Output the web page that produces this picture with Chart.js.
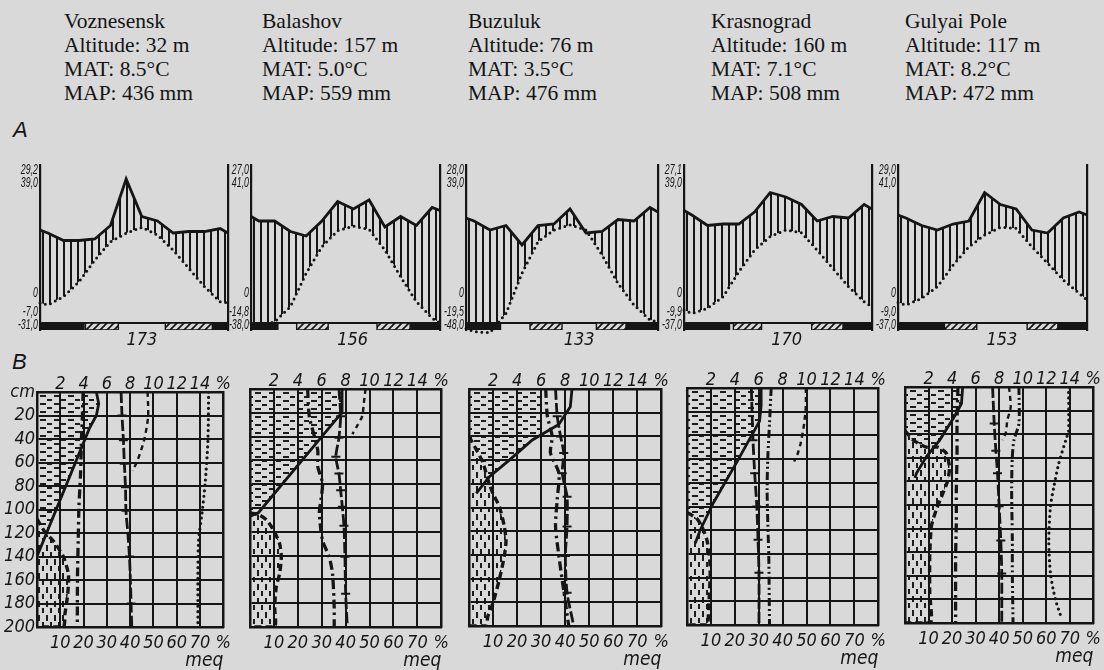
<!DOCTYPE html>
<html>
<head>
<meta charset="utf-8">
<title>Climate diagrams and soil profiles</title>
<script src="https://cdn.jsdelivr.net/npm/chart.js@4.4.1/dist/chart.umd.min.js"></script>
<style>
  html, body { margin:0; padding:0; }
  body { width:1104px; height:670px; position:relative; overflow:hidden; background:#d9d9d9; color:#141414;
         font-family:'Liberation Serif','Times New Roman',serif; }
  .hdr { position:absolute; top:9px; font-size:21.5px; line-height:24px; white-space:nowrap; }
  .letter { position:absolute; font-family:'Liberation Sans',Arial,sans-serif; font-style:italic; font-size:22px; line-height:22px; }
  canvas { position:absolute; }
</style>
</head>
<body>
<script>
// ===================== DATA =====================
const stations = ['Voznesensk', 'Balashov', 'Buzuluk', 'Krasnograd', 'Gulyai Pole'];
const altitudes = [32, 157, 76, 160, 117];
const meanAnnualTemp = ['8.5', '5.0', '3.5', '7.1', '8.2'];
const meanAnnualPrecip = [436, 559, 476, 508, 472];

// x positions of climate points: left edge, Jan..Dec (mid-month), right edge
const monthPos = [0, 0.5, 1.5, 2.5, 3.5, 4.5, 5.5, 6.5, 7.5, 8.5, 9.5, 10.5, 11.5, 12];

// mean monthly temperature, °C (edge, Jan..Dec, edge)
const tempVoznesensk = [-3.3, -4.0, -1.2, 3.8, 11.0, 17.1, 19.9, 21.9, 19.3, 14.3, 8.2, 2.1, -2.9, -3.3];
const tempBalashov   = [-10.0, -11.0, -9.6, -4.6, 6.6, 15.4, 20.8, 22.3, 21.2, 14.3, 5.4, -2.9, -8.4, -10.0];
const tempBuzuluk    = [-11.8, -12.9, -13.2, -6.8, 6.6, 17.1, 21.0, 22.7, 21.0, 12.7, 3.2, -4.0, -9.0, -9.6];
const tempKrasnograd = [-5.7, -6.8, -5.1, -1.2, 7.1, 14.3, 18.8, 21.0, 20.1, 14.3, 8.2, 2.1, -2.9, -4.6];
const tempGulyaiPole = [-3.2, -4.0, -1.8, 2.1, 9.3, 15.4, 19.3, 21.9, 21.6, 15.4, 9.9, 4.3, -0.1, -2.3];

// mean monthly precipitation, mm (edge, Jan..Dec, edge)
const precVoznesensk = [42, 40, 35, 35, 36, 45, 76, 51, 48, 40, 41, 41, 43, 40];
const precBalashov   = [51, 48, 48, 41, 38, 48, 61, 56, 62, 44, 51, 45, 57, 55];
const precBuzuluk    = [50, 48, 42, 45, 32, 45, 46, 56, 40, 41, 49, 48, 57, 54];
const precKrasnograd = [55, 52, 45, 46, 46, 54, 67, 64, 59, 48, 51, 50, 59, 56];
const precGulyaiPole = [52, 50, 45, 42, 46, 48, 67, 59, 56, 42, 40, 50, 54, 52];

// frost bars below the diagrams, [from, to] in months
const frostBlackVoz = [[0, 2.85], [11.0, 12]];   const frostHatchVoz = [[2.9, 5.0], [8.0, 11.0]];
const frostBlackBal = [[0, 1.75], [10.1, 12]];   const frostHatchBal = [[2.9, 4.9], [8.0, 10.1]];
const frostBlackBuz = [[0, 2.2], [10.0, 12]];    const frostHatchBuz = [[4.0, 6.0], [8.15, 10.0]];
const frostBlackKra = [[0, 2.95], [10.15, 12]];  const frostHatchKra = [[3.15, 4.95], [8.15, 10.15]];
const frostBlackGul = [[0, 2.95], [10.15, 12]];  const frostHatchGul = [[2.95, 5.0], [8.2, 10.15]];
const frostFreeDays = [173, 156, 133, 170, 153];

// climate diagram tick labels (two upper values, 0, two lower values)
const climLabelsVoz = ['29,2', '39,0', '0', '-7,0', '-31,0'];
const climLabelsBal = ['27,0', '41,0', '0', '-14,8', '-38,0'];
const climLabelsBuz = ['28,0', '39,0', '0', '-19,5', '-48,0'];
const climLabelsKra = ['27,1', '39,0', '0', '-9,9', '-37,0'];
const climLabelsGul = ['29,0', '41,0', '0', '-9,0', '-37,0'];

// soil profile axes
const depthTicks = [0, 20, 40, 60, 80, 100, 120, 140, 160, 180, 200];
const depthTickLabels = ['cm', '20', '40', '60', '80', '100', '120', '140', '160', '180', '200'];
const pctTicks = [0, 2, 4, 6, 8, 10, 12, 14, 16];
const pctTickLabels = ['', '2', '4', '6', '8', '10', '12', '14', '%'];
const meqTicks = [0, 10, 20, 30, 40, 50, 60, 70, 80];
const meqTickLabels = ['', '10', '20', '30', '40', '50', '60', '70', '%'];

// soil profiles: [depth cm, value]; humus in %, other curves in meq / %
const vozHumus    = [[0, 5.1], [10, 5.3], [20, 5.1], [31, 4.5], [140, 0]];
const vozCarb     = [[108, 0], [118, 3], [128, 7.5], [140, 11.3], [155, 13.5], [172, 13.2], [189, 12], [200, 11.3]];
const vozDashDot  = [[0, 19.8], [20, 19.5], [40, 19.1], [70, 18.7], [98, 18.0], [126, 17.7], [155, 17.4], [200, 17.3]];
const vozCross    = [[0, 36.1], [20, 36.5], [41, 37.1], [61, 37.5], [81, 38], [101, 38.2], [120, 39], [140, 39.7], [160, 40.1], [180, 40.4], [200, 40.7]];
const vozDashed   = [[0, 47.5], [21, 47.7], [41, 46], [58, 43.2], [67, 41.1]];
const vozDotted   = [[0, 73.7], [41, 73.4], [78, 72.2], [104, 70.8], [126, 69.4], [155, 69.1], [200, 69.1]];

const balHumus    = [[0, 7.7], [20, 7.7], [22, 7.5], [104, 0.7], [107, 0]];
const balCarb     = [[104, 0], [106, 4.1], [110, 6.9], [118, 9.7], [130, 12.4], [141, 13.1], [155, 12.4], [166, 11], [183, 10.3], [200, 10.3]];
const balDashDot  = [[0, 24.1], [23, 24.8], [51, 28.3], [65, 28.3], [79, 30.3], [93, 29.7], [104, 29], [127, 30.3], [141, 33.1], [155, 34.5], [183, 35.2], [200, 35.2]];
const balCross    = [[0, 37.2], [23, 37.9], [41, 37.2], [57, 35.9], [71, 37.2], [85, 37.9], [99, 38.6], [115, 39.3], [141, 39.7], [172, 40], [200, 40.7]];
const balDashed   = [[0, 48.3], [12, 47.6], [23, 46.9], [31, 44.8], [38, 42.8]];

const buzHatch    = [[0, 6.1], [38, 6.1], [43, 5.27], [60, 3.35], [74, 1.7], [88, 0.6], [90, 0]];
const buzHumus    = [[0, 8.57], [15, 8.43], [30, 7.47], [43, 5.27], [60, 3.35], [74, 1.7], [88, 0.6]];
const buzCarb     = [[40, 0], [51, 3.0], [62, 5.8], [76, 7.8], [88, 9.9], [99, 12.6], [116, 14.7], [128, 15.4], [141, 14.7], [161, 12.6], [181, 9.9], [192, 7.8], [200, 7.1]];
const buzDashDot  = [[0, 31.9], [23, 32.6], [40, 34.6], [54, 33.9], [71, 37.4], [93, 36.7], [116, 36.0], [141, 37.4], [170, 39.4], [200, 41.5]];
const buzCross    = [[0, 36.0], [23, 36.7], [40, 38.1], [54, 39.4], [71, 38.8], [91, 40.8], [116, 40.8], [141, 40.1], [172, 40.8], [200, 43.6]];

const kraHumus    = [[0, 6.2], [15, 6.2], [28, 6.07], [63, 4.14], [97, 2.2], [120, 1.1], [131, 0.69]];
const kraCarb     = [[105, 0], [110, 4], [117, 6.2], [128, 8.3], [142, 9.4], [156, 9.7], [173, 9.4], [187, 9.0], [200, 8.3]];
const kraCross    = [[0, 26.9], [44, 27.6], [72, 28.3], [100, 29.2], [128, 29.7], [156, 30.1], [200, 30.1]];
const kraDashDot2 = [[0, 35.2], [30, 34.5], [58, 33.8], [86, 33.5], [114, 33.8], [142, 34.2], [200, 34.5]];
const kraDashed   = [[0, 49.7], [15, 49.7], [30, 49], [46, 47.6], [56, 46.2], [62, 44.8]];

const gulHumus    = [[0, 4.9], [14, 4.8], [25, 4.2], [45, 2.95], [59, 1.83], [73, 0.98], [77, 0.84]];
const gulCarb     = [[37, 0], [45, 3.5], [51, 9.1], [51, 14.0], [56, 17.5], [68, 18.9], [79, 18.2], [90, 16.1], [104, 13.3], [118, 11.2], [144, 10.5], [175, 10.5], [200, 10.8]];
const gulDashDot  = [[0, 22.5], [31, 22.1], [59, 22.1], [87, 21.8], [115, 21.8], [144, 21.5], [200, 21.5]];
const gulCross    = [[0, 37.2], [31, 37.9], [54, 38.6], [73, 39.3], [101, 40], [130, 40.7], [158, 41.1], [200, 41.1]];
const gulDashDot2 = [[0, 48.4], [31, 48.4], [45, 46.3], [59, 45.6], [87, 45.3], [130, 45.6], [158, 45.6], [200, 45.9]];
const gulDashed   = [[0, 44.2], [17, 44.9], [28, 43.5], [39, 42.8], [45, 41.4]];
const gulDotted   = [[0, 69.5], [39, 69.5], [42, 68.8], [65, 65.3], [85, 63.2], [101, 61.8], [130, 61.1], [158, 61.8], [180, 63.9], [197, 66.7]];

// ===================== TABLES BUILT FROM DATA =====================
const temperatures = [tempVoznesensk, tempBalashov, tempBuzuluk, tempKrasnograd, tempGulyaiPole];
const precipitation = [precVoznesensk, precBalashov, precBuzuluk, precKrasnograd, precGulyaiPole];
const frostBlack = [frostBlackVoz, frostBlackBal, frostBlackBuz, frostBlackKra, frostBlackGul];
const frostHatch = [frostHatchVoz, frostHatchBal, frostHatchBuz, frostHatchKra, frostHatchGul];
const climLabels = [climLabelsVoz, climLabelsBal, climLabelsBuz, climLabelsKra, climLabelsGul];
const soilPanels = [
  { hatch: vozHumus, humus: vozHumus, carb: vozCarb, dashDot: vozDashDot, cross: vozCross, dashDot2: null, dashed: vozDashed, dotted: vozDotted },
  { hatch: balHumus, humus: balHumus, carb: balCarb, dashDot: balDashDot, cross: balCross, dashDot2: null, dashed: balDashed, dotted: null },
  { hatch: buzHatch, humus: buzHumus, carb: buzCarb, dashDot: buzDashDot, cross: buzCross, dashDot2: null, dashed: null, dotted: null },
  { hatch: kraHumus, humus: kraHumus, carb: kraCarb, dashDot: null, cross: kraCross, dashDot2: kraDashDot2, dashed: kraDashed, dotted: null },
  { hatch: gulHumus, humus: gulHumus, carb: gulCarb, dashDot: gulDashDot, cross: gulCross, dashDot2: gulDashDot2, dashed: gulDashed, dotted: gulDotted }
];

// ===================== LAYOUT & STYLE =====================
const INK = '#151515';
const PAPER = '#d9d9d9';
const NARROW = "'Liberation Sans Narrow','DejaVu Sans Condensed','Liberation Sans',Arial,sans-serif";
const hdrLeft = [64, 262, 468, 711, 905];
const climAxisLeft = [40, 251, 466, 684, 898];
const climAxisRight = [228, 440, 658, 872, 1087];
const climTickValues = [41, 36.6, 0, -6.2, -10.6];  // where the labels sit on the temperature axis
const T_MIN = -12.33, T_MAX = 42.67, STRIP_TOP = -10;
const soilLeft = [37, 250, 469, 687, 905];
const soilRight = [225, 443, 663, 880, 1095];
const soilTop = [392, 389, 389, 388, 387];
const soilBottom = [627, 627, 626, 625, 623];
const CLIM_LABEL_SIZE = 14;      // px, drawn horizontally condensed
const CLIM_LABEL_SQUEEZE = 0.63;

function addDiv(cls, left, top, html) {
  const d = document.createElement('div');
  d.className = cls; d.style.left = left + 'px';
  if (top !== null) d.style.top = top + 'px';
  d.innerHTML = html; document.body.appendChild(d);
}
stations.forEach((s, k) => addDiv('hdr', hdrLeft[k], null,
  `${s}<br>Altitude: ${altitudes[k]} m<br>MAT: ${meanAnnualTemp[k]}&deg;C<br>MAP: ${meanAnnualPrecip[k]} mm`));
addDiv('letter', 13, 119, 'A');
addDiv('letter', 12, 351, 'B');

function makeCanvas(left, top, w, h) {
  const c = document.createElement('canvas');
  c.width = w; c.height = h;
  c.style.left = left + 'px'; c.style.top = top + 'px';
  c.style.width = w + 'px'; c.style.height = h + 'px';
  document.body.appendChild(c);
  return c;
}
function pattern(w, h, draw) {
  const c = document.createElement('canvas'); c.width = w; c.height = h;
  const g = c.getContext('2d'); draw(g); return g.createPattern(c, 'repeat');
}
const vHatch = pattern(7, 4, g => { g.fillStyle = INK; g.fillRect(0, 0, 2, 4); });
const frostPat = pattern(7, 7, g => {
  g.fillStyle = PAPER; g.fillRect(0, 0, 7, 7);
  g.strokeStyle = INK; g.lineWidth = 1.7;
  g.beginPath(); g.moveTo(0, 7); g.lineTo(7, 0); g.moveTo(-1, 1); g.lineTo(1, -1); g.moveTo(6, 8); g.lineTo(8, 6); g.stroke();
});
const dashH = pattern(14, 8, g => { g.fillStyle = '#1c1c1c'; g.fillRect(1, 1, 6, 2); g.fillRect(8, 5, 5, 2); });
const dashV = pattern(8, 14, g => {
  g.fillStyle = PAPER; g.fillRect(0, 0, 8, 14);
  g.fillStyle = '#1c1c1c'; g.fillRect(1, 1, 2, 6); g.fillRect(5, 8, 2, 5);
});

// condensed lettering for the crowded climate-axis labels (horizontal squeeze of the text)
const condense = {
  id: 'condense',
  beforeInit(chart) {
    const ctx = chart.ctx;
    const orig = ctx.fillText;
    ctx.fillText = function (text, x, y, maxWidth) {
      if (this.font.indexOf(' ' + CLIM_LABEL_SIZE + 'px') < 0) return orig.call(this, text, x, y, maxWidth);
      this.save();
      this.translate(x, y);
      this.scale(CLIM_LABEL_SQUEEZE, 1);
      orig.call(this, text, 0, 0);
      this.restore();
    };
  }
};

const baseOpts = {
  responsive: false, animation: false, devicePixelRatio: 1, events: [],
  plugins: { legend: { display: false }, tooltip: { enabled: false } }
};

// ===================== CLIMATE DIAGRAMS =====================
function climateChart(k) {
  const L = climAxisLeft[k], R = climAxisRight[k];
  const cv = makeCanvas(L - 40, 150, R - L + 46, 205);
  const T = temperatures[k], P = precipitation[k], labels = climLabels[k];
  const rect = (s, e, bg, bw) => ({
    data: [{x: s, y: STRIP_TOP}, {x: e, y: STRIP_TOP}, {x: e, y: T_MIN}, {x: s, y: T_MIN}, {x: s, y: STRIP_TOP}],
    xAxisID: 'x', yAxisID: 'yT', fill: 'shape', backgroundColor: bg, borderColor: INK,
    borderWidth: bw, pointRadius: 0, order: 0
  });
  const datasets = [
    { data: monthPos.map((x, i) => ({x, y: P[i]})), xAxisID: 'x', yAxisID: 'yP',
      borderColor: INK, borderWidth: 2.8, pointRadius: 0, tension: 0,
      fill: { target: 1, above: vHatch, below: 'rgba(0,0,0,0)' }, order: 2 },
    { data: monthPos.map((x, i) => ({x, y: T[i]})), xAxisID: 'x', yAxisID: 'yT',
      borderColor: INK, borderWidth: 3, borderDash: [0, 5.5], borderCapStyle: 'round',
      pointRadius: 0, fill: false, clip: false, order: 1 }
  ];
  frostBlack[k].forEach(([s, e]) => datasets.push(rect(s, e, INK, 0)));
  frostHatch[k].forEach(([s, e]) => datasets.push(rect(s, e, frostPat, 1.4)));
  const labelPos = (frostHatch[k][0][1] + frostHatch[k][1][0]) / 2;
  const isBase = c => c.tick && c.tick.value === STRIP_TOP;
  new Chart(cv, {
    type: 'line',
    data: { datasets },
    plugins: [condense],
    options: Object.assign({}, baseOpts, {
      layout: { padding: { top: 15, left: 0, right: 0, bottom: 0 } },
      scales: {
        x: { type: 'linear', position: 'bottom', min: 0, max: 12,
             afterBuildTicks: s => { s.ticks = [{ value: labelPos }]; },
             ticks: { autoSkip: false, maxRotation: 0, padding: 0, color: INK,
                      font: { family: NARROW, size: 18, style: 'italic' },
                      callback: () => String(frostFreeDays[k]) },
             grid: { display: false, drawTicks: false }, border: { display: false },
             afterFit: s => { s.height = 25; } },
        yT: { type: 'linear', position: 'left', min: T_MIN, max: T_MAX,
              afterBuildTicks: s => { s.ticks = climTickValues.concat([STRIP_TOP]).map(v => ({ value: v })); },
              ticks: { autoSkip: false, padding: 1, color: INK,
                       font: { family: "'Liberation Sans',Arial,sans-serif", size: CLIM_LABEL_SIZE, style: 'italic' },
                       callback: (v, i) => (i < labels.length ? labels[i] : '') },
              grid: { drawOnChartArea: true, drawTicks: true, lineWidth: 2, tickLength: 1, tickWidth: 1.5,
                      color: c => (isBase(c) ? INK : 'rgba(0,0,0,0)'),
                      tickColor: 'rgba(0,0,0,0)' },
              border: { color: INK, width: 2.2 },
              afterFit: s => { s.width = 40; } },
        yP: { type: 'linear', position: 'right', min: 2 * T_MIN, max: 2 * T_MAX,
              ticks: { display: false }, grid: { display: false },
              border: { color: INK, width: 2.2 },
              afterFit: s => { s.width = 6; } }
      }
    })
  });
}

// ===================== SOIL PROFILES =====================
function pts(arr) { return arr.map(([d, v]) => ({ x: v, y: d })); }
function soilChart(k) {
  const p = soilPanels[k];
  const gl = soilLeft[k], gr = soilRight[k], gt = soilTop[k], gb = soilBottom[k];
  const yW = k === 0 ? 40 : 10;
  const cv = makeCanvas(gl - yW, gt - 30, gr - gl + yW + 12, gb - gt + 30 + 48);
  const line = (arr, extra) => Object.assign({
    data: pts(arr), xAxisID: 'xb', yAxisID: 'y', borderColor: INK, pointRadius: 0, fill: false, tension: 0.25
  }, extra);
  const datasets = [];
  const last = p.hatch[p.hatch.length - 1][0];
  datasets.push({ data: [{x: 0, y: 0}].concat(pts(p.hatch), [{x: 0, y: last}]), xAxisID: 'xt', yAxisID: 'y',
                  fill: 'shape', backgroundColor: dashH, borderWidth: 0, pointRadius: 0, order: 10 });
  datasets.push({ data: pts(p.carb).concat([{x: 0, y: 200}]), xAxisID: 'xb', yAxisID: 'y',
                  fill: 'shape', backgroundColor: dashV, borderColor: INK, borderWidth: 3.4,
                  borderDash: [7, 4], pointRadius: 0, tension: 0.2, order: 9 });
  datasets.push({ data: pts(p.humus), xAxisID: 'xt', yAxisID: 'y', borderColor: INK, borderWidth: 2.8,
                  pointRadius: 0, fill: false, order: 3 });
  if (p.dashDot) datasets.push(line(p.dashDot, { borderWidth: 3.3, borderDash: [9, 4, 2.5, 4], order: 2 }));
  if (p.dashDot2) datasets.push(line(p.dashDot2, { borderWidth: 3, borderDash: [8, 3, 2, 3, 2, 3], order: 2 }));
  if (p.cross) datasets.push(line(p.cross, { borderWidth: 2.8, borderDash: [11, 3], pointStyle: 'line',
                  pointRadius: 4.5, pointBorderWidth: 2, pointBorderColor: INK, order: 2 }));
  if (p.dashed) datasets.push(line(p.dashed, { borderWidth: 2.4, borderDash: [5, 4], order: 2 }));
  if (p.dotted) datasets.push(line(p.dotted, { borderWidth: 3.2, borderDash: [0, 5.5], borderCapStyle: 'round', order: 2 }));

  const tickFont = { family: NARROW, size: 18, style: 'italic' };
  new Chart(cv, {
    type: 'line',
    data: { datasets },
    options: Object.assign({}, baseOpts, {
      layout: { padding: 0 },
      scales: {
        xt: { type: 'linear', position: 'top', min: 0, max: 16,
              afterBuildTicks: s => { s.ticks = pctTicks.map(v => ({ value: v })); },
              ticks: { autoSkip: false, maxRotation: 0, padding: -3, color: INK, font: tickFont,
                       callback: (v, i) => pctTickLabels[i] },
              grid: { display: false, drawTicks: false },
              border: { color: INK, width: 2.5, z: 1 },
              afterFit: s => { s.height = 30; } },
        xb: { type: 'linear', position: 'bottom', min: 0, max: 80,
              afterBuildTicks: s => { s.ticks = meqTicks.map(v => ({ value: v })); },
              ticks: { autoSkip: false, maxRotation: 0, padding: 6, color: INK, font: tickFont,
                       callback: (v, i) => meqTickLabels[i] },
              grid: { color: INK, lineWidth: 2, drawTicks: false, z: 1 },
              border: { color: INK, width: 2.5, z: 1 },
              title: { display: true, text: 'meq', align: 'end', color: INK,
                       font: { family: NARROW, size: 19, style: 'italic' }, padding: { top: 0, bottom: 3 } },
              afterFit: s => { s.height = 48; } },
        y: { type: 'linear', position: 'left', reverse: true, min: 0, max: 200,
             afterBuildTicks: s => { s.ticks = depthTicks.map(v => ({ value: v })); },
             ticks: { display: k === 0, autoSkip: false, padding: 2, color: INK, font: tickFont,
                      callback: (v, i) => depthTickLabels[i] },
             grid: { color: INK, lineWidth: 2, drawTicks: false, z: 1 },
             border: { color: INK, width: 2.5, z: 1 },
             afterFit: s => { s.width = yW; } },
        yr: { type: 'linear', position: 'right', min: 0, max: 1,
              ticks: { display: false }, grid: { display: false },
              border: { color: INK, width: 2.5, z: 1 },
              afterFit: s => { s.width = 12; } }
      }
    })
  });
}

for (let k = 0; k < 5; k++) { climateChart(k); soilChart(k); }
</script>
</body>
</html>
